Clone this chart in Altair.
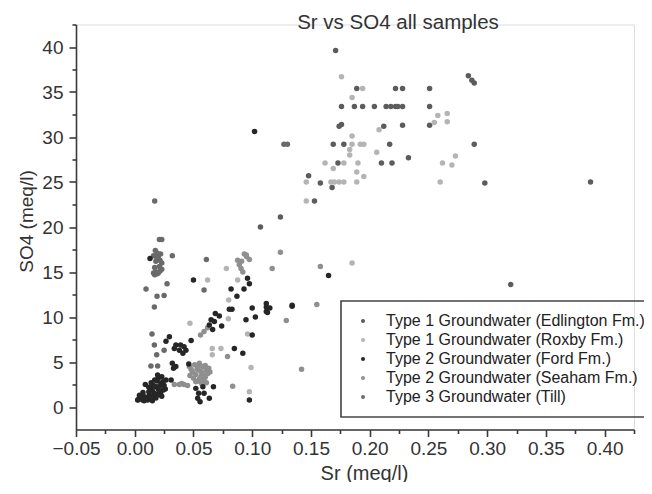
import altair as alt
import pandas as pd

FONT = "Liberation Sans, Arial, Helvetica, sans-serif"

series_names = [
    "Type 1 Groundwater (Edlington Fm.)",
    "Type 1 Groundwater (Roxby Fm.)",
    "Type 2 Groundwater (Ford Fm.)",
    "Type 2 Groundwater (Seaham Fm.)",
    "Type 3 Groundwater (Till)",
]
series_colors = ["#5c5c5c", "#b4b4b4", "#262626", "#8f8f8f", "#6a6a6a"]

edl_sr = [0.171, 0.189, 0.222, 0.228, 0.251,
          0.176, 0.187, 0.194, 0.204, 0.214, 0.218, 0.222, 0.224, 0.228, 0.251,
          0.174, 0.176, 0.212, 0.228, 0.251,
          0.169, 0.178, 0.217, 0.289,
          0.173, 0.210, 0.219, 0.233,
          0.148, 0.158, 0.168, 0.153, 0.298, 0.388,
          0.284, 0.287, 0.289, 0.320, 0.124, 0.107]
edl_so4 = [39.6, 35.4, 35.4, 35.4, 35.4,
           33.4, 33.4, 33.4, 33.4, 33.4, 33.4, 33.4, 33.4, 33.4, 33.4,
           31.2, 31.4, 31.2, 31.3, 31.3,
           29.2, 29.2, 29.2, 29.2,
           27.1, 27.1, 27.1, 27.7,
           25.7, 24.9, 24.4, 22.9, 24.9, 25.0,
           36.8, 36.3, 36.0, 13.6, 21.1, 20.0]

rox_sr = [0.176, 0.194, 0.185, 0.208, 0.185, 0.185, 0.192, 0.195, 0.183, 0.183,
          0.206, 0.162, 0.178, 0.190, 0.169, 0.189, 0.195, 0.146, 0.167, 0.170,
          0.174, 0.178, 0.189, 0.146, 0.258, 0.266, 0.266, 0.255, 0.273, 0.262,
          0.270, 0.260, 0.185, 0.062, 0.078, 0.0876, 0.080, 0.0797, 0.047, 0.096,
          0.066, 0.0734, 0.066, 0.099, 0.0976]
rox_so4 = [36.7, 35.4, 34.4, 30.8, 30.1, 29.2, 29.2, 29.2, 28.6, 28.0,
           28.3, 27.1, 27.1, 27.1, 26.5, 26.1, 25.6, 25.0, 25.0, 25.0,
           25.0, 25.0, 25.0, 22.9, 32.4, 32.6, 31.7, 31.6, 27.9, 27.1,
           26.9, 25.0, 16.0, 14.1, 15.4, 14.1, 11.9, 9.8, 9.3, 8.1,
           6.5, 6.5, 5.8, 4.4, 1.7]

ford_sr = [0.102, 0.165, 0.134, 0.134, 0.115, 0.113,
           0.013, 0.050, 0.096, 0.0976, 0.093, 0.082, 0.087,
           0.112, 0.112, 0.112, 0.100,
           0.0805, 0.0828, 0.0686, 0.072, 0.065, 0.0678, 0.0635, 0.0663, 0.074,
           0.0947, 0.1027, 0.100,
           0.048, 0.0266, 0.0295,
           0.035, 0.039, 0.042, 0.0436, 0.038, 0.041, 0.0337,
           0.0848, 0.092,
           0.032, 0.035, 0.033, 0.046,
           0.009, 0.0195, 0.023, 0.0224, 0.018, 0.0138, 0.0244, 0.021, 0.0167, 0.0124,
           0.0082, 0.0039, 0.0025, 0.0068, 0.011, 0.0153, 0.0195, 0.0266, 0.031, 0.015,
           0.010, 0.005, 0.013, 0.017, 0.020, 0.022, 0.025,
           0.004, 0.007, 0.009, 0.012, 0.014, 0.016, 0.018, 0.019, 0.021, 0.023,
           0.024, 0.026, 0.012, 0.006, 0.003, 0.008, 0.015, 0.020, 0.017, 0.014,
           0.052, 0.0544, 0.0536, 0.0556, 0.058, 0.059, 0.0635, 0.067, 0.0976]
ford_so4 = [30.6, 14.6, 11.2, 11.3, 11.0, 10.5,
            16.5, 14.1, 14.3, 13.7, 13.1, 13.1, 12.3,
            11.5, 11.1, 10.6, 11.0,
            10.85, 10.85, 10.4, 10.1, 9.7, 9.5, 9.1, 8.6, 9.0,
            9.7, 10.0, 8.0,
            7.4, 7.3, 7.8,
            6.9, 6.9, 6.7, 6.3, 6.3, 5.96, 6.5,
            6.5, 5.96,
            4.85, 4.5, 4.3, 4.78,
            2.5, 3.55, 3.37, 2.63, 2.26, 2.08, 1.89, 1.7, 1.52, 1.33,
            1.15, 0.96, 0.78, 0.78, 0.78, 0.96, 1.33, 3.0, 3.0, 1.8,
            1.0, 1.1, 0.9, 1.2, 2.0, 1.5, 2.4,
            1.3, 1.6, 0.9, 1.7, 1.1, 2.4, 1.0, 2.9, 2.3, 1.2,
            2.8, 2.0, 2.2, 1.0, 0.8, 0.7, 0.7, 3.2, 3.0, 2.7,
            2.07, 1.52, 0.96, 0.59, 2.26, 1.52, 0.96, 2.26, 0.78]

sea_sr = [0.0933, 0.0953, 0.0976, 0.0876, 0.089, 0.0905, 0.092, 0.095, 0.091,
          0.059, 0.056, 0.062,
          0.055, 0.058, 0.0607, 0.049, 0.052, 0.0564, 0.059, 0.062, 0.0465, 0.053,
          0.057, 0.060, 0.050, 0.054, 0.061,
          0.048, 0.051, 0.054, 0.056, 0.058, 0.060, 0.055, 0.052, 0.057, 0.063,
          0.064, 0.047,
          0.0337, 0.038, 0.042, 0.045, 0.040,
          0.124, 0.117, 0.158, 0.155, 0.129, 0.142, 0.079, 0.0834]
sea_so4 = [17.0, 16.7, 16.4, 16.3, 15.8, 15.4, 15.0, 16.9, 16.2,
           8.4, 8.0, 8.8,
           4.85, 4.5, 4.1, 3.9, 3.6, 3.4, 3.0, 3.7, 4.5, 4.2,
           3.8, 4.6, 3.2, 2.9, 2.7,
           4.2, 4.7, 4.4, 4.0, 3.6, 3.3, 3.1, 2.8, 2.6, 4.3,
           3.9, 3.5,
           2.5, 2.5, 2.5, 2.4, 2.6,
           17.2, 15.4, 15.6, 11.4, 9.6, 4.2, 5.6, 2.3]

till_sr = [0.017, 0.127, 0.130, 0.021, 0.023,
           0.0175, 0.019, 0.020, 0.0215, 0.023, 0.018, 0.016, 0.018, 0.020, 0.017, 0.0215,
           0.016, 0.019, 0.022, 0.017, 0.021, 0.019, 0.023,
           0.032, 0.061, 0.0275, 0.0096, 0.019, 0.025, 0.0167, 0.059,
           0.0147, 0.0167, 0.025, 0.0187, 0.0138, 0.0195]
till_so4 = [22.9, 29.2, 29.2, 18.6, 18.6,
            17.4, 17.1, 16.7, 16.3, 16.0, 16.2, 14.9, 15.0, 14.9, 14.7, 15.1,
            16.8, 16.5, 17.0, 15.5, 15.6, 14.8, 15.3,
            16.8, 16.4, 13.7, 13.1, 12.3, 12.4, 11.1, 13.0,
            8.1, 6.9, 6.3, 5.8, 4.55, 4.55]

x_ticks = [round(-0.05 + 0.025 * i, 3) for i in range(20)]
y_ticks = [2.5 * i for i in range(18)]

rows = []
for name, xs, ys, order in [
    (series_names[0], edl_sr, edl_so4, 0),
    (series_names[1], rox_sr, rox_so4, 1),
    (series_names[3], sea_sr, sea_so4, 2),
    (series_names[4], till_sr, till_so4, 3),
    (series_names[2], ford_sr, ford_so4, 4),
]:
    for a, b in zip(xs, ys):
        rows.append({"Sr": a, "SO4": b, "Group": name, "ord": order})
df = pd.DataFrame(rows)

chart = alt.Chart(df).mark_circle(size=30, opacity=1).encode(
    x=alt.X("Sr:Q",
            scale=alt.Scale(domain=[-0.05, 0.425], nice=False, zero=False),
            axis=alt.Axis(
                title="Sr (meq/l)", values=x_ticks, format=".2f",
                labelExpr="round(datum.value*1000) % 50 == 0 ? datum.label : ''",
                tickSize={"condition": {"test": "round(datum.value*1000) % 50 == 0", "value": 7}, "value": 4},
                grid=False, labelFontSize=19, labelFont=FONT, labelColor="#333",
                labelPadding=3, labelFlush=False,
                titleFontSize=20, titleFont=FONT, titleFontWeight="normal", titleColor="#333",
                titleX=288, titleY=49.5, titleAlign="center", titleBaseline="alphabetic",
                domainColor="#3a3a3a", domainWidth=1.6, tickColor="#3a3a3a", tickWidth=1.6)),
    y=alt.Y("SO4:Q",
            scale=alt.Scale(domain=[-2.5, 42.5], nice=False, zero=False),
            axis=alt.Axis(
                title="SO4 (meq/l)", values=y_ticks, format="d",
                labelExpr="datum.value % 5 == 0 ? datum.label : ''",
                tickSize={"condition": {"test": "datum.value % 5 == 0", "value": 7}, "value": 4},
                grid=False, labelFontSize=19, labelFont=FONT, labelColor="#333",
                labelPadding=6, labelFlush=False,
                titleFontSize=19, titleFont=FONT, titleFontWeight="normal", titleColor="#333",
                titleX=-44, titleY=196.5, titleAngle=-90, titleAlign="center", titleBaseline="alphabetic",
                domainColor="#3a3a3a", domainWidth=1.6, tickColor="#3a3a3a", tickWidth=1.6)),
    color=alt.Color("Group:N",
                    scale=alt.Scale(domain=series_names, range=series_colors),
                    legend=alt.Legend(
                        title=None, orient="none", legendX=265, legendY=276.5,
                        labelFontSize=16, labelFont=FONT, labelColor="#222",
                        symbolType="circle", symbolSize=16, symbolOffset=2,
                        labelOffset=15, padding=12,
                        strokeColor="#444", cornerRadius=0,
                        labelLimit=400)),
    order=alt.Order("ord:Q"),
).properties(
    width=558, height=405,
    title=alt.TitleParams("Sr vs SO4 all samples", fontSize=20.5, font=FONT,
                          fontWeight="normal", color="#333", anchor="middle",
                          baseline="alphabetic", offset=0, dx=43, dy=26),
    autosize=alt.AutoSizeParams(type="none"),
    padding={"left": 68, "top": 16.5, "right": 10, "bottom": 52.5},
).configure_view(stroke=None).configure(background="white").configure_legend(
    strokeWidth=1.6, rowPadding=3
)

chart.save("out.html", embed_options={"renderer": "svg", "actions": False})
